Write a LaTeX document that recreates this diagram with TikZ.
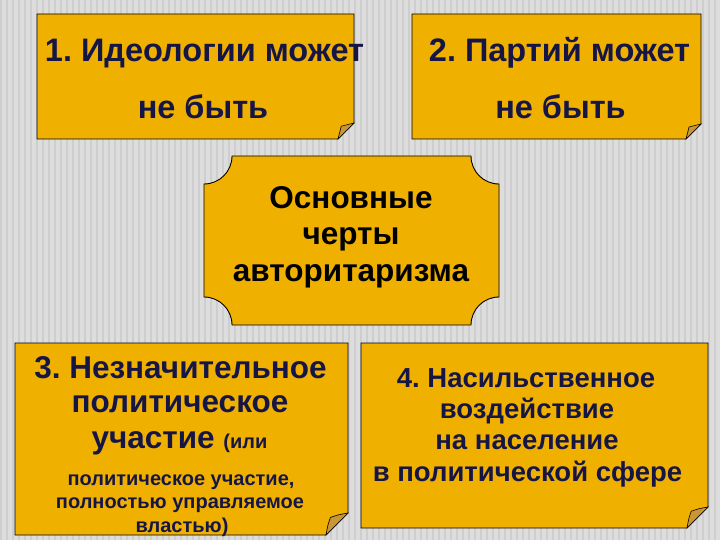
\documentclass[tikz,border=0pt]{standalone}
\usepackage{fontspec}
\setmainfont{Liberation Sans}
\frenchspacing
\definecolor{bgbase}{RGB}{221,221,221}
\definecolor{bgstripe}{RGB}{206,206,206}
\definecolor{boxfill}{RGB}{240,176,0}
\definecolor{foldc}{RGB}{200,150,50}
\definecolor{navy}{RGB}{22,22,70}
\newcommand\foldedbox[5]{%
 \filldraw[fill=boxfill,draw=black,line width=0.9pt] (#1,#2) -- (#3,#2) -- (#3,{#4-#5}) -- ({#3-#5},#4) -- (#1,#4) -- cycle;
 \filldraw[fill=foldc,draw=black,line width=0.6pt] ({#3-#5},#4) .. controls ({#3-0.92*#5},{#4-0.45*#5}) .. ({#3-0.8*#5},{#4-0.8*#5}) .. controls ({#3-0.45*#5},{#4-0.92*#5}) .. (#3,{#4-#5}) -- cycle;
}
\tikzset{
 txt/.style={inner sep=0pt, anchor=base, text=navy},
 ctxt/.style={inner sep=0pt, anchor=base, text=black},
}
\begin{document}
\begin{tikzpicture}[x=1pt,y=-1pt]
\useasboundingbox (0,0) rectangle (720,540);
\fill[bgbase] (0,0) rectangle (720,540);
\foreach \i in {0,6,...,720} {\fill[bgstripe] (\i,0) rectangle ({\i+2},540);}
% boxes
\foldedbox{37}{14}{354}{139}{16}
\foldedbox{412}{14}{701}{139}{15}
\foldedbox{15}{343}{348}{535}{22}
\foldedbox{361}{343}{708}{528}{21}
% central plaque
\filldraw[fill=boxfill,draw=black,line width=0.9pt]
 (232,156) -- (471,156) .. controls (471,171.5) and (483.5,184) .. (499,184)
 -- (499,297) .. controls (483.5,297) and (471,309.5) .. (471,325)
 -- (232,325) .. controls (232,309.5) and (219.5,297) .. (204,297)
 -- (204,184) .. controls (219.5,184) and (232,171.5) .. (232,156) -- cycle;
% texts box 1
\node[txt,font=\bfseries\fontsize{32.5}{32.5}\selectfont] (b1a) at (204.5,62) {1. Идеологии может};
\node[txt,font=\bfseries\fontsize{32.5}{32.5}\selectfont] (b1b) at (203,119) {не быть};
% box 2
\node[txt,font=\bfseries\fontsize{32.5}{32.5}\selectfont] (b2a) at (559.5,62) {2. Партий может};
\node[txt,font=\bfseries\fontsize{32.5}{32.5}\selectfont] (b2b) at (560.5,119) {не быть};
% centre
\node[ctxt,font=\bfseries\fontsize{31.5}{31.5}\selectfont] (c1) at (351,208) {Основные};
\node[ctxt,font=\bfseries\fontsize{31.5}{31.5}\selectfont] (c2) at (351,244) {черты};
\node[ctxt,font=\bfseries\fontsize{31.5}{31.5}\selectfont] (c3) at (351,281) {авторитаризма};
% box 3
\node[txt,font=\bfseries\fontsize{31.5}{31.5}\selectfont] (b3a) at (180.5,378) {3. Незначительное};
\node[txt,font=\bfseries\fontsize{31.5}{31.5}\selectfont] (b3b) at (180,412) {политическое};
\node[txt,font=\bfseries\fontsize{31.5}{31.5}\selectfont] (b3c) at (179.5,448) {участие {\fontsize{20}{20}\selectfont (или}};
\node[txt,font=\bfseries\fontsize{20}{20}\selectfont] (b3d) at (181,485) {политическое участие,};
\node[txt,font=\bfseries\fontsize{20}{20}\selectfont] (b3e) at (180,508) {полностью управляемое};
\node[txt,font=\bfseries\fontsize{20}{20}\selectfont] (b3f) at (182,532) {властью)};
% box 4
\node[txt,font=\bfseries\fontsize{27.5}{27.5}\selectfont] (b4a) at (526,387) {4. Насильственное};
\node[txt,font=\bfseries\fontsize{27.5}{27.5}\selectfont] (b4b) at (527,418) {воздействие};
\node[txt,font=\bfseries\fontsize{27.5}{27.5}\selectfont] (b4c) at (527,449) {на население};
\node[txt,font=\bfseries\fontsize{27.5}{27.5}\selectfont] (b4d) at (527.5,481) {в политической сфере};
\end{tikzpicture}
\end{document}
